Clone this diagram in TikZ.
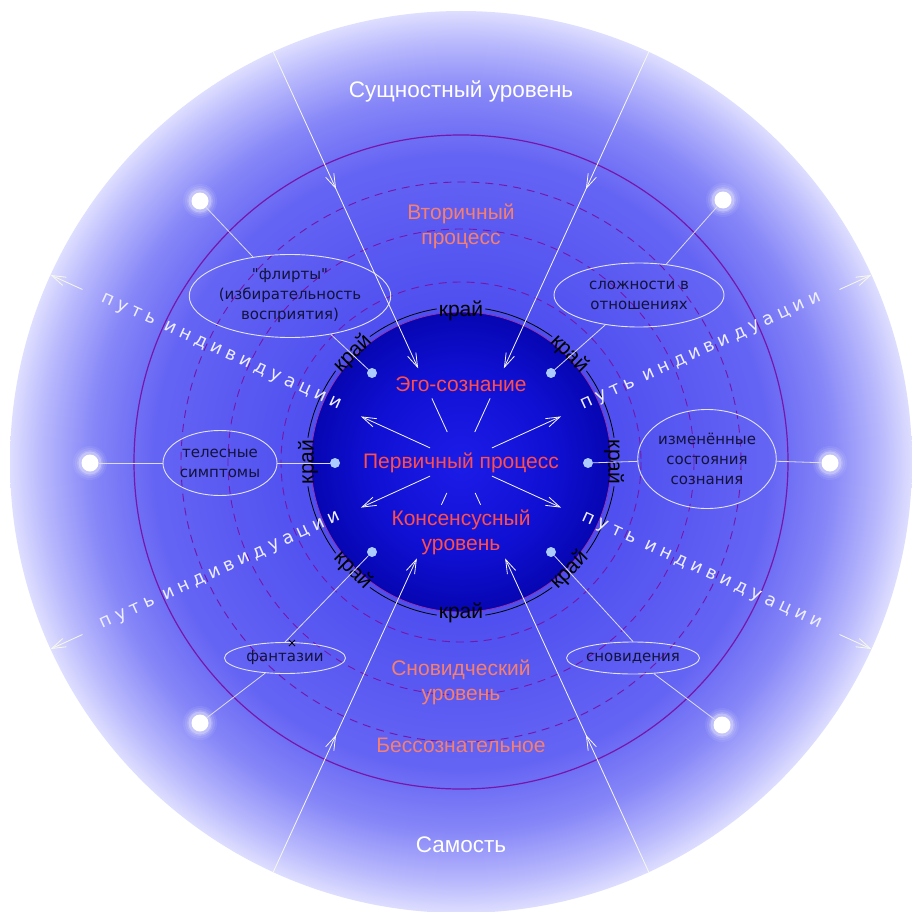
\documentclass[tikz,border=0pt]{standalone}
\usepackage{fontspec}
\setmainfont{Liberation Sans}
\newfontfamily\trackfont[LetterSpace=27]{DejaVu Sans}
\newfontfamily\ellfont{DejaVu Sans}
\usetikzlibrary{arrows.meta,decorations.markings,shapes.geometric}
\newcommand\fsz[2]{\fontsize{#1}{#2}\selectfont}
\definecolor{bgA}{RGB}{70,70,236}
\definecolor{bgB}{RGB}{80,80,240}
\definecolor{bgC}{RGB}{100,100,244}
\definecolor{bgD}{RGB}{135,135,248}
\definecolor{bgE}{RGB}{185,185,253}
\definecolor{bgF}{RGB}{222,222,255}
\definecolor{inA}{RGB}{28,28,232}
\definecolor{inB}{RGB}{16,16,212}
\definecolor{inC}{RGB}{6,6,178}
\definecolor{ringcol}{RGB}{118,22,170}
\definecolor{rimcol}{RGB}{150,50,170}
\definecolor{salmon}{RGB}{246,128,112}
\definecolor{redlab}{RGB}{255,78,78}
\definecolor{elltext}{RGB}{18,18,60}
\definecolor{ellcol}{RGB}{228,228,240}
\definecolor{dotcol}{RGB}{172,204,255}
\definecolor{linkcol}{RGB}{220,220,235}
\definecolor{raycol}{RGB}{248,248,236}
\definecolor{trackcol}{RGB}{238,238,255}
\pgfdeclareradialshading{outerdisc}{\pgfpoint{0bp}{0bp}}{color(0bp)=(bgA); color(9bp)=(bgB); color(17bp)=(bgC); color(20.5bp)=(bgD); color(23.3bp)=(bgE); color(25bp)=(bgF); color(50bp)=(bgF)}
\pgfdeclareradialshading{innerdisc}{\pgfpoint{0bp}{0bp}}{color(0bp)=(inA); color(15bp)=(inB); color(25bp)=(inC); color(50bp)=(inC)}
\tikzset{
  ringline/.style={draw=ringcol, line width=1.2pt},
  dashring/.style={draw=ringcol, line width=0.9pt, dash pattern=on 8pt off 6pt},
  rimline/.style={draw=rimcol, line width=0.8pt},
  edgeline/.style={draw=black, line width=0.8pt},
  kraj/.style={text=black, font=\fsz{21}{24}, inner sep=0pt},
  outlab/.style={text=salmon, font=\fsz{21}{25}, align=center, inner sep=0pt},
  inlab/.style={text=redlab, font=\fsz{21}{25}, align=center, inner sep=0pt},
  whitelab/.style={text=white, font=\fsz{22.5}{26}, inner sep=0pt},
  ell/.style={ellipse, draw=ellcol, line width=0.9pt, inner sep=0pt, align=center, text=elltext, font=\fsz{15}{20}\ellfont},
  dotnode/.style={circle, fill=dotcol, minimum size=10pt, inner sep=0pt},
  glowc/.style={circle, fill=white, minimum size=17pt, inner sep=0pt},
  link/.style={draw=linkcol, line width=0.8pt},
  ray/.style={draw=raycol, line width=0.8pt},
  barb/.style={-{Straight Barb[length=14pt,width=9pt]}},
  midhead/.style={postaction={decorate}, decoration={markings, mark=at position #1 with {\arrow{Straight Barb[length=14pt,width=9pt]}}}},
  track/.style={text=trackcol, font=\fsz{18}{20}\trackfont, inner sep=0pt}
}
\begin{document}
\begin{tikzpicture}[x=1pt,y=-1pt]
\useasboundingbox (0,0) rectangle (911,912);
\fill[white] (0,0) rectangle (911,912);
\coordinate (C) at (461,462);
% discs and rings
\shade[shading=outerdisc] (C) circle[radius=451];
\draw[ringline] (C) circle[radius=327];
\foreach \r in {180,233,280} \draw[dashring] (C) circle[radius=\r];
\shade[shading=innerdisc] (C) circle[radius=150];
\draw[rimline] (C) circle[radius=150];
\foreach \a in {0,45,...,315}
  \draw[edgeline] ([shift={(\a+9:155)}]C) arc[start angle=\a+9, end angle=\a+36, radius=155];
% edge labels
\node[kraj, rotate=-90] (k0) at ([shift={(0:153)}]C) {край};
\node[kraj, rotate=45] (k45) at ([shift={(45:153)}]C) {край};
\node[kraj] (k90) at ([shift={(90:151)}]C) {край};
\node[kraj, rotate=-45] (k135) at ([shift={(135:153)}]C) {край};
\node[kraj, rotate=90] (k180) at ([shift={(180:153)}]C) {край};
\node[kraj, rotate=45] (k225) at ([shift={(225:153)}]C) {край};
\node[kraj] (k270) at ([shift={(270:151)}]C) {край};
\node[kraj, rotate=-45] (k315) at ([shift={(315:153)}]C) {край};
% level labels
\node[whitelab] (ess) at (461,91) {Сущностный уровень};
\node[whitelab] (sam) at (461,845) {Самость};
\node[outlab] (vtor) at (461,226) {Вторичный\\процесс};
\node[inlab] (ego) at (461,384) {Эго-сознание};
\node[inlab] (perv) at (461,463) {Первичный процесс};
\node[inlab] (kons) at (461,532) {Консенсусный\\уровень};
\node[outlab] (snov) at (461,682) {Сновидческий\\уровень};
\node[outlab] (bess) at (461,745) {Бессознательное};
% ellipses
\node[ell, minimum width=164pt, minimum height=83pt] (eFl) at (290,296) {"флирты"\\(избирательность\\восприятия)};
\node[ell, minimum width=170pt, minimum height=64pt] (eSl) at (639,295) {сложности в\\отношениях};
\node[ell, minimum width=114pt, minimum height=65pt] (eTe) at (220,463) {телесные\\симптомы};
\node[ell, minimum width=126pt, minimum height=99pt] (eIz) at (707,459) {изменённые\\состояния\\сознания};
\node[ell, minimum width=121pt, minimum height=31pt] (eFa) at (285,658) {фантазии};
\node[ell, minimum width=120pt, minimum height=32pt] (eSn) at (633,658) {сновидения};
% dots
\node[dotnode] (dUL) at (372,373) {};
\node[dotnode] (dUR) at (551,373) {};
\node[dotnode] (dL) at (335,463) {};
\node[dotnode] (dR) at (588,463) {};
\node[dotnode] (dLL) at (372,552) {};
\node[dotnode] (dLR) at (551,552) {};
% glows
\foreach \n/\p in {gUL/{(200,201)}, gUR/{(723,200)}, gL/{(90,463)}, gR/{(830,463)}, gLL/{(200,723)}, gLR/{(722,725)}} {
  \foreach \r/\o in {17/0.07, 15/0.1, 13/0.16, 11.5/0.28} \fill[white, opacity=\o] \p circle[radius=\r];
  \node[glowc] (\n) at \p {};
}
% links
\draw[link] (gUL) -- (eFl); \draw[link] (eFl) -- (dUL);
\draw[link] (gUR) -- (eSl); \draw[link] (eSl) -- (dUR);
\draw[link] (gL) -- (eTe); \draw[link] (eTe) -- (dL);
\draw[link] (gR) -- (eIz); \draw[link] (eIz) -- (dR);
\draw[link] (dLL) -- (eFa.north); \draw[link] (eFa) -- (gLL);
\draw[link] (dLR) -- (eSn.north); \draw[link] (eSn) -- (gLR);
\draw[black, line width=0.8pt] (289,640) -- (295,646) (289,646) -- (295,640);
% inward rays
\foreach \a/\n/\ti/\so/\si in {245.4/1/103/70/33, 294.6/2/103/70/33, 114.6/3/106/47/34, 65.4/4/106/47/34} {
  \coordinate (rs\n) at ([shift={(\a:451)}]C);
  \coordinate (rt\n) at ([shift={(\a:\ti)}]C);
  \coordinate (ro\n) at ([shift={(\a:\so)}]C);
  \coordinate (ri\n) at ([shift={(\a:\si)}]C);
  \draw[ray, barb, midhead=151pt] (rs\n) -- (rt\n);
  \draw[ray] (ro\n) -- (ri\n);
}
% paths of individuation
\foreach \a/\n/\rot in {204.5/1/-24.5, 335.5/2/24.5, 155.5/3/24.5, 24.5/4/-24.5} {
  \coordinate (pa\n) at ([shift={(\a:34)}]C);
  \coordinate (pb\n) at ([shift={(\a:110)}]C);
  \coordinate (pc\n) at ([shift={(\a:416)}]C);
  \coordinate (pd\n) at ([shift={(\a:451)}]C);
  \draw[ray, barb] (pa\n) -- (pb\n);
  \draw[ray, barb] (pc\n) -- (pd\n);
  \node[track, rotate=\rot] (pt\n) at ([shift={(\a:264)}]C) {путь индивидуации};
}
\end{tikzpicture}
\end{document}
